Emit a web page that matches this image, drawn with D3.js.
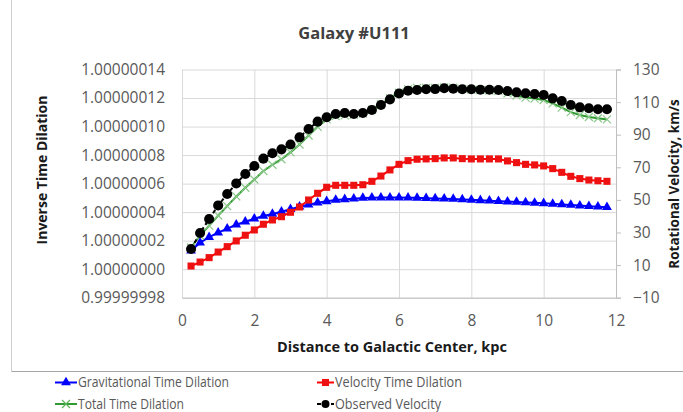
<!DOCTYPE html>
<html>
<head>
<meta charset="utf-8">
<script src="https://cdn.jsdelivr.net/npm/d3@7"></script>
<style>
  html, body { margin: 0; padding: 0; background: #fff; }
  svg { display: block; font-family: "Open Sans", "Liberation Sans", sans-serif; }
</style>
</head>
<body>
<svg id="chart" width="683" height="412"></svg>
<script>
// ---------------- DATA ----------------
const title = "Galaxy #U111";
const xLabel = "Distance to Galactic Center, kpc";
const yLeftLabel = "Inverse Time Dilation";
const yRightLabel = "Rotational Velocity, km/s";
const seriesNames = ["Gravitational Time Dilation", "Velocity Time Dilation", "Total Time Dilation", "Observed Velocity"];

// distance, kpc
const distance = [0.25,0.5,0.75,1.0,1.25,1.5,1.75,2.0,2.25,2.5,2.75,3.0,3.25,3.5,3.75,4.0,
  4.25,4.5,4.75,5.0,5.25,5.5,5.75,6.0,6.25,6.5,6.75,7.0,7.25,7.5,7.75,8.0,
  8.25,8.5,8.75,9.0,9.25,9.5,9.75,10.0,10.25,10.5,10.75,11.0,11.25,11.5,11.75];

// inverse time dilation, expressed as (value - 1) in units of 1e-8
const gravitational = [1.30,1.86,2.24,2.56,2.84,3.12,3.33,3.54,3.73,3.87,4.03,4.20,4.38,4.52,4.66,4.76,
  4.85,4.90,4.94,4.99,5.01,5.02,5.02,5.02,5.01,5.00,4.98,4.96,4.94,4.92,4.89,4.86,
  4.83,4.80,4.77,4.74,4.71,4.68,4.65,4.62,4.58,4.54,4.50,4.46,4.42,4.38,4.34];
const velocityDil = [0.22,0.50,0.81,1.20,1.58,1.98,2.38,2.75,3.15,3.45,3.68,3.99,4.36,4.85,5.32,5.74,
  5.88,5.88,5.88,5.92,6.16,6.53,6.96,7.35,7.61,7.71,7.73,7.75,7.80,7.80,7.75,7.73,
  7.73,7.73,7.73,7.59,7.47,7.35,7.31,7.24,7.05,6.79,6.51,6.35,6.25,6.20,6.16];
const totalDil = [1.52,2.36,3.05,3.76,4.42,5.10,5.71,6.29,6.88,7.32,7.71,8.19,8.74,9.37,9.98,10.50,
  10.73,10.78,10.82,10.91,11.17,11.55,11.98,12.37,12.62,12.71,12.71,12.71,12.74,12.72,12.64,12.59,
  12.56,12.53,12.50,12.33,12.18,12.03,11.96,11.86,11.63,11.33,11.01,10.81,10.67,10.58,10.50];
// observed rotational velocity, km/s
const observedVelocity = [19.9,29.7,38.3,46.6,53.6,60.1,65.9,70.8,75.3,78.6,81.0,84.0,88.4,93.5,98.0,100.7,
  102.7,103.3,102.7,103.3,105.2,108.2,111.7,115.3,117.0,117.4,117.9,118.0,118.5,118.2,117.9,117.9,
  117.6,117.6,117.4,116.8,116.0,115.4,115.0,114.4,112.3,110.7,108.2,106.8,106.2,105.6,105.6];

const xTicks = [0,2,4,6,8,10,12];
const yLeftTicks = [-2,0,2,4,6,8,10,12,14];
const yRightTicks = [-10,10,30,50,70,90,110,130];

// ---------------- LAYOUT ----------------
const svg = d3.select("#chart");
const L = 182, R = 616, T = 69.5, B = 297.7;
const x = d3.scaleLinear().domain([0, 12]).range([L, R]);
const yL = d3.scaleLinear().domain([-2, 14]).range([B, T]);
const yR = d3.scaleLinear().domain([-10, 130]).range([B, T]);
const fmtLeft = v => (1 + v * 1e-8).toFixed(8);

const gridCol = "#d9d9d9", labelCol = "#595959";

// chart area border
svg.append("line").attr("x1", 11.5).attr("x2", 11.5).attr("y1", 0).attr("y2", 371.5).attr("stroke", "#d0d0d0");
svg.append("line").attr("x1", 11.5).attr("x2", 683).attr("y1", 371.5).attr("y2", 371.5).attr("stroke", "#a6a6a6");

// title
svg.append("text").attr("x", 354).attr("y", 39).attr("text-anchor", "middle")
  .attr("font-size", 16.5).attr("font-weight", 700).attr("fill", "#404040").text(title);

// gridlines
const gH = svg.append("g").attr("transform", `translate(${L},0)`)
  .call(d3.axisLeft(yL).tickValues(yLeftTicks).tickSize(-(R - L)).tickFormat(""));
gH.selectAll(".tick line").attr("stroke", gridCol);
gH.select(".domain").remove();

const gV = svg.append("g").attr("transform", `translate(0,${B})`)
  .call(d3.axisBottom(x).tickValues(xTicks).tickSize(-(B - T)).tickFormat(""));
gV.selectAll(".tick line").attr("stroke", gridCol);
gV.select(".domain").remove();

// left axis labels
const aL = svg.append("g").attr("transform", `translate(${L},0)`)
  .call(d3.axisLeft(yL).tickValues(yLeftTicks).tickSize(0).tickPadding(17).tickFormat(fmtLeft));
aL.select(".domain").remove();
aL.selectAll("text").attr("fill", labelCol).attr("font-size", 15.5).attr("font-family", "Open Sans");

// bottom axis
const aB = svg.append("g").attr("transform", `translate(0,${B})`)
  .call(d3.axisBottom(x).tickValues(xTicks).tickSize(0).tickPadding(17).tickFormat(d3.format("d")));
aB.select(".domain").attr("stroke", "#bfbfbf");
aB.selectAll("text").attr("fill", labelCol).attr("font-size", 15.5).attr("font-family", "Open Sans");

// right axis
const aR = svg.append("g").attr("transform", `translate(${R},0)`)
  .call(d3.axisRight(yR).tickValues(yRightTicks).tickSize(5).tickPadding(12).tickFormat(d3.format("d")));
aR.select(".domain").attr("stroke", "#bfbfbf");
aR.selectAll(".tick line").attr("stroke", "#bfbfbf");
aR.selectAll("text").attr("fill", labelCol).attr("font-size", 15.5).attr("font-family", "Open Sans");

// axis titles
svg.append("text").attr("transform", `translate(47,170) rotate(-90)`).attr("text-anchor", "middle")
  .attr("font-size", 14).attr("font-weight", 700).attr("fill", "#1a1a1a").text(yLeftLabel);
svg.append("text").attr("transform", `translate(679,184) rotate(-90)`).attr("text-anchor", "middle")
  .attr("font-size", 13.5).attr("font-weight", 700).attr("fill", "#1a1a1a").text(yRightLabel);
svg.append("text").attr("x", 392).attr("y", 352).attr("text-anchor", "middle")
  .attr("font-size", 14.5).attr("font-weight", 700).attr("fill", "#1a1a1a").text(xLabel);

// ---------------- SERIES ----------------
const xPath = s => `M${-s},${-s}L${s},${s}M${-s},${s}L${s},${-s}`;
const tri = d3.symbol().type(d3.symbolTriangle).size(42)();
const sq = d3.symbol().type(d3.symbolSquare).size(50)();
const circ = d3.symbol().type(d3.symbolCircle).size(80)();
const circLeg = d3.symbol().type(d3.symbolCircle).size(50)();

function drawLine(vals, yScale, color, width, dash) {
  const line = d3.line().x((d, i) => x(distance[i])).y(d => yScale(d));
  svg.append("path").datum(vals).attr("d", line).attr("fill", "none")
    .attr("stroke", color).attr("stroke-width", width).attr("stroke-dasharray", dash || null);
}
function drawMarks(vals, yScale, pathStr, fill, stroke, sw) {
  svg.append("g").selectAll("path").data(vals).join("path")
    .attr("transform", (d, i) => `translate(${x(distance[i])},${yScale(d)})`)
    .attr("d", pathStr).attr("fill", fill).attr("stroke", stroke || "none").attr("stroke-width", sw || 0);
}

drawLine(gravitational, yL, "#0000ff", 2);
drawMarks(gravitational, yL, tri, "#0000ff");
drawLine(velocityDil, yL, "#ff0000", 2);
drawMarks(velocityDil, yL, sq, "#ee1111");
drawLine(totalDil, yL, "#2f9a2f", 2);
drawMarks(totalDil, yL, xPath(4), "none", "#8cc88c", 1.2);
drawLine(observedVelocity, yR, "#000", 2, "4,3");
drawMarks(observedVelocity, yR, circ, "#000");

// ---------------- LEGEND ----------------
const legend = [
  {name: seriesNames[0], x: 55, y: 382.5, w: 151, color: "#0000ff", mark: tri, fill: "#0000ff"},
  {name: seriesNames[1], x: 317, y: 382.5, w: 127, color: "#ff0000", mark: sq, fill: "#ee1111"},
  {name: seriesNames[2], x: 55, y: 404, w: 106, color: "#2f9a2f", mark: xPath(4), fill: "none", stroke: "#5fb35f"},
  {name: seriesNames[3], x: 317, y: 404, w: 106, color: "#000", mark: circLeg, fill: "#000", dash: "4,3"}
];
const lw = 22;
const lg = svg.append("g").selectAll("g").data(legend).join("g")
  .attr("transform", d => `translate(${d.x},${d.y})`);
lg.append("line").attr("x1", 0).attr("x2", d => d.x > 300 ? 17 : lw).attr("y1", 0).attr("y2", 0)
  .attr("stroke", d => d.color).attr("stroke-width", 2).attr("stroke-dasharray", d => d.dash || null);
lg.append("path").attr("transform", d => `translate(${d.x > 300 ? 8.5 : lw / 2},0)`)
  .attr("d", d => d.mark).attr("fill", d => d.fill).attr("stroke", d => d.stroke || "none").attr("stroke-width", 1.2);
lg.append("text").attr("x", d => d.x > 300 ? 18 : lw + 1).attr("y", 0).attr("dy", "0.35em")
  .attr("font-size", 14).attr("fill", labelCol)
  .attr("textLength", d => d.w).attr("lengthAdjust", "spacingAndGlyphs").text(d => d.name);
</script>
</body>
</html>
